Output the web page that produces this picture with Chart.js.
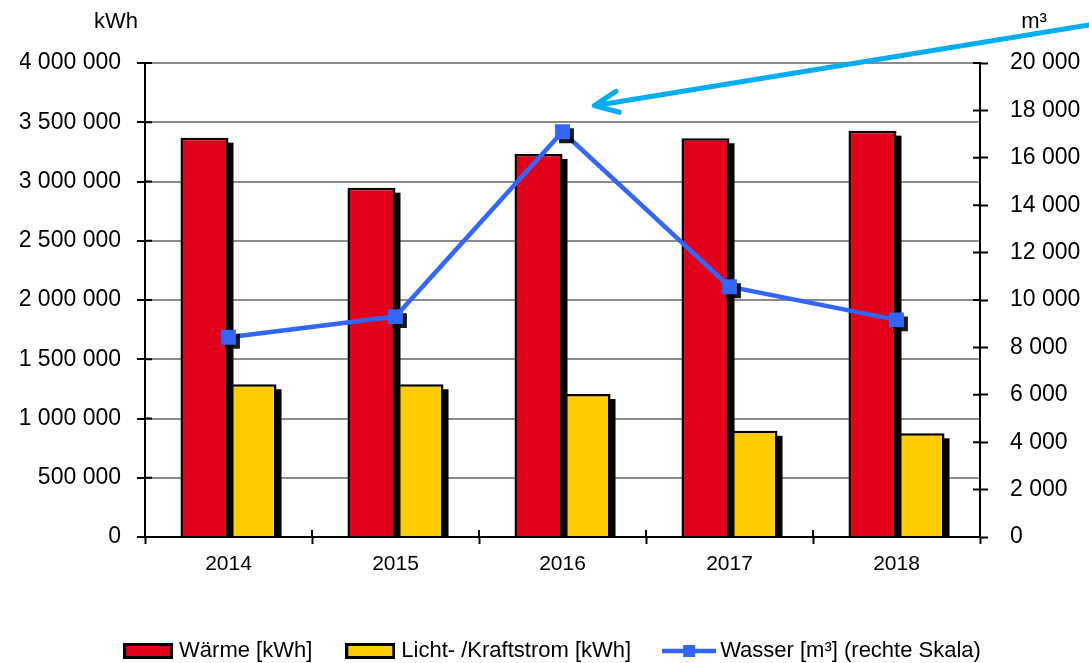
<!DOCTYPE html>
<html>
<head>
<meta charset="utf-8">
<script src="https://cdn.jsdelivr.net/npm/chart.js@4"></script>
<style>
  html, body { margin: 0; padding: 0; background: #fff; }
  #wrap { width: 1089px; height: 663px; }
</style>
</head>
<body>
<div id="wrap"><canvas id="energyChart"></canvas></div>
<script>
// values
const years = ['2014', '2015', '2016', '2017', '2018'];
const waerme = [3370000, 2948000, 3232000, 3365000, 3429000];     // kWh
const strom = [1289000, 1289000, 1207000, 896000, 875000];        // kWh
const wasser = [8430, 9300, 17100, 10560, 9160];                  // m³ (rechte Skala)

const kwhTicks = { min: 0, max: 4000000, step: 500000 };
const m3Ticks = { min: 0, max: 20000, step: 2000 };

// the cyan pointer arrow: tip at (category index, m³), tail leaves the picture on the right
const arrowTip = [2.19, 18200];
const arrowTailM3 = 21600;

const RED = '#e2001a';
const YELLOW = '#ffcc00';
const BLUE = '#3366ff';
const FONT = "'Liberation Sans', Arial, sans-serif";

Chart.defaults.font.family = FONT;
Chart.defaults.color = '#000';

function spaced(v) {
    return String(v).replace(/\B(?=(\d{3})+(?!\d))/g, ' ');
}

// small canvases used as legend symbols
function boxIcon(fill) {
    const c = document.createElement('canvas');
    c.width = 50; c.height = 16;
    const g = c.getContext('2d');
    g.fillStyle = '#000';
    g.fillRect(0, 0, 50, 16);
    g.fillStyle = fill;
    g.fillRect(3, 3, 44, 10);
    return c;
}
function lineIcon() {
    const c = document.createElement('canvas');
    c.width = 54; c.height = 14;
    const g = c.getContext('2d');
    g.strokeStyle = BLUE;
    g.lineWidth = 4.5;
    g.beginPath(); g.moveTo(0, 7); g.lineTo(54, 7); g.stroke();
    g.fillStyle = BLUE;
    g.fillRect(21, 1, 12, 12);
    return c;
}
const legendIcons = [boxIcon(RED), boxIcon(YELLOW), lineIcon()];

// black drop shadow: bars get a solid offset block, markers a canvas shadow
const shadowPlugin = {
    id: 'shadows',
    beforeDatasetDraw(chart, args) {
        const ds = chart.data.datasets[args.index];
        if (!ds.shadowOffset) return;
        const ctx = chart.ctx;
        const off = ds.shadowOffset;
        ctx.save();
        if (ds.type === 'bar') {
            const a = chart.chartArea;
            ctx.beginPath();
            ctx.rect(a.left, a.top, a.right - a.left, a.bottom - a.top);
            ctx.clip();
            ctx.fillStyle = '#000';
            args.meta.data.forEach(bar => {
                const p = bar.getProps(['x', 'y', 'base', 'width'], true);
                ctx.fillRect(p.x - p.width / 2 + off, p.y + off, p.width, p.base - p.y);
            });
            ctx.restore();
        } else {
            ctx.shadowColor = 'rgba(0,0,0,0.9)';
            ctx.shadowBlur = 0;
            ctx.shadowOffsetX = off;
            ctx.shadowOffsetY = off;
        }
    },
    afterDatasetDraw(chart, args) {
        const ds = chart.data.datasets[args.index];
        if (ds.shadowOffset && ds.type !== 'bar') chart.ctx.restore();
    }
};

// legend sits lower than chart.js would put it
const legendFitPlugin = {
    id: 'legendFit',
    beforeInit(chart) {
        const lg = chart.legend;
        if (!lg) return;
        const fit = lg.fit.bind(lg);
        lg.fit = function () { fit(); this.height -= 9; };
    }
};

// inner halves of the crossing tick marks, unit labels, and the arrow
const decoPlugin = {
    id: 'deco',
    afterDatasetsDraw(chart) {
        const ctx = chart.ctx;
        const a = chart.chartArea;
        const { x, y, y1 } = chart.scales;
        ctx.save();
        ctx.strokeStyle = '#000';
        ctx.lineWidth = 2;
        ctx.beginPath();
        y.ticks.forEach(t => {
            const py = y.getPixelForValue(t.value);
            ctx.moveTo(a.left, py); ctx.lineTo(a.left + 7, py);
        });
        y1.ticks.forEach(t => {
            const py = y1.getPixelForValue(t.value);
            ctx.moveTo(a.right, py); ctx.lineTo(a.right - 7, py);
        });
        const n = years.length;
        for (let i = 0; i <= n; i++) {
            const px = x.left + i * (x.width / n);
            ctx.moveTo(px, a.bottom); ctx.lineTo(px, a.bottom - 7);
        }
        ctx.stroke();
        ctx.restore();
    },
    afterDraw(chart) {
        const ctx = chart.ctx;
        const a = chart.chartArea;
        const { x, y1 } = chart.scales;
        ctx.save();
        ctx.fillStyle = '#000';
        ctx.font = '22px ' + FONT;
        ctx.textAlign = 'center';
        ctx.textBaseline = 'middle';
        ctx.fillText('kWh', a.left - 29, 22);
        ctx.fillText('m³', a.right + 54, 22);

        const tx = x.getPixelForValue(arrowTip[0]);
        const ty = y1.getPixelForValue(arrowTip[1]);
        const ex = chart.width;
        const ey = y1.getPixelForValue(arrowTailM3);
        const ang = Math.atan2(ey - ty, ex - tx);
        const len = 26, spread = 24 * Math.PI / 180;
        ctx.strokeStyle = '#00aeef';
        ctx.lineWidth = 5;
        ctx.lineCap = 'round';
        ctx.lineJoin = 'round';
        ctx.beginPath();
        ctx.moveTo(ex, ey); ctx.lineTo(tx, ty);
        ctx.moveTo(tx + len * Math.cos(ang - spread), ty + len * Math.sin(ang - spread));
        ctx.lineTo(tx, ty);
        ctx.lineTo(tx + len * Math.cos(ang + spread), ty + len * Math.sin(ang + spread));
        ctx.stroke();
        ctx.restore();
    }
};

const ctx = document.getElementById('energyChart').getContext('2d');
const chart = new Chart(ctx, {
    data: {
        labels: years,
        datasets: [
            {
                type: 'bar',
                label: 'Wärme [kWh]',
                data: waerme,
                backgroundColor: RED,
                borderColor: '#000',
                borderWidth: 2.5,
                yAxisID: 'y',
                categoryPercentage: 0.575,
                barPercentage: 1,
                shadowOffset: 5,
                order: 2
            },
            {
                type: 'bar',
                label: 'Licht- /Kraftstrom [kWh]',
                data: strom,
                backgroundColor: YELLOW,
                borderColor: '#000',
                borderWidth: 2.5,
                yAxisID: 'y',
                categoryPercentage: 0.575,
                barPercentage: 1,
                shadowOffset: 5,
                order: 2
            },
            {
                type: 'line',
                label: 'Wasser [m³] (rechte Skala)',
                data: wasser,
                borderColor: BLUE,
                backgroundColor: BLUE,
                borderWidth: 4.5,
                pointRadius: 0,
                yAxisID: 'y1',
                order: 1
            },
            {
                // square markers of the water line, drawn separately to get the shadow
                type: 'line',
                label: 'markers',
                data: wasser,
                showLine: false,
                pointStyle: 'rect',
                pointRadius: 10.5,
                pointBackgroundColor: BLUE,
                pointBorderWidth: 0,
                yAxisID: 'y1',
                shadowOffset: 4,
                order: 0
            }
        ]
    },
    options: {
        responsive: true,
        maintainAspectRatio: false,
        animation: false,
        layout: { padding: { top: 63, left: 20, right: 0, bottom: 0 } },
        plugins: {
            tooltip: { enabled: false },
            legend: {
                position: 'bottom',
                labels: {
                    usePointStyle: true,
                    pointStyleWidth: 40,
                    padding: 38,
                    color: '#000',
                    font: { size: 22 },
                    sort: (a, b) => a.datasetIndex - b.datasetIndex,
                    generateLabels(chart) {
                        const items = Chart.defaults.plugins.legend.labels.generateLabels(chart);
                        return items.filter(it => it.datasetIndex < 3).map(it => {
                            it.pointStyle = legendIcons[it.datasetIndex];
                            it.rotation = 0;
                            return it;
                        });
                    }
                }
            }
        },
        scales: {
            x: {
                offset: true,
                border: { color: '#000', width: 2 },
                grid: {
                    offset: true,
                    drawOnChartArea: false,
                    drawTicks: true,
                    tickLength: 7,
                    tickColor: '#000',
                    tickWidth: 2
                },
                ticks: { padding: 8, font: { size: 21 }, color: '#000' },
                afterFit(scale) { scale.height = 65; }
            },
            y: {
                type: 'linear',
                position: 'left',
                min: kwhTicks.min,
                max: kwhTicks.max,
                border: { color: '#000', width: 2 },
                grid: {
                    color: '#8c8c8c',
                    lineWidth: 2,
                    tickLength: 8,
                    tickColor: '#000',
                    tickWidth: 2
                },
                ticks: {
                    stepSize: kwhTicks.step,
                    padding: 16,
                    font: { size: 23 },
                    color: '#000',
                    callback: v => spaced(v)
                },
                afterFit(scale) { scale.width = 125; }
            },
            y1: {
                type: 'linear',
                position: 'right',
                min: m3Ticks.min,
                max: m3Ticks.max,
                border: { color: '#000', width: 2 },
                grid: {
                    drawOnChartArea: false,
                    tickLength: 8,
                    tickColor: '#000',
                    tickWidth: 2
                },
                ticks: {
                    stepSize: m3Ticks.step,
                    padding: 22,
                    font: { size: 23 },
                    color: '#000',
                    callback: v => spaced(v)
                },
                afterFit(scale) { scale.width = 109; }
            }
        }
    },
    plugins: [shadowPlugin, legendFitPlugin, decoPlugin]
});
</script>
</body>
</html>
